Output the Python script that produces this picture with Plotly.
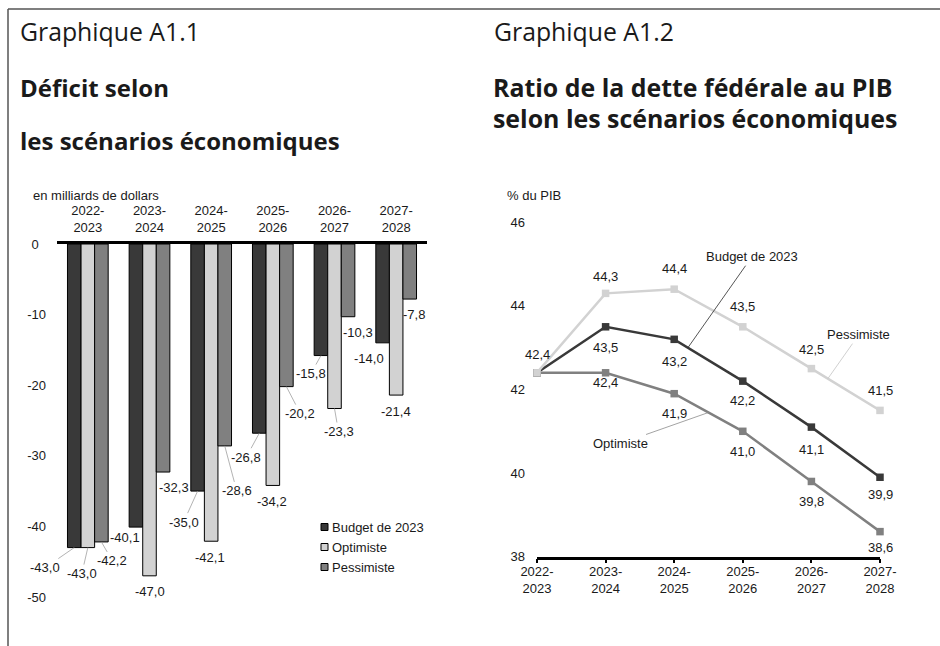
import numpy as np
import plotly.graph_objects as go

# ---------------------------------------------------------------- data
periods = ["2022-2023", "2023-2024", "2024-2025", "2025-2026", "2026-2027", "2027-2028"]

# Déficit (milliards de dollars)
deficit_budget = [-43.0, -40.1, -35.0, -26.8, -15.8, -14.0]
deficit_optimiste = [-43.0, -47.0, -42.1, -34.2, -23.3, -21.4]
deficit_pessimiste = [-42.2, -32.3, -28.6, -20.2, -10.3, -7.8]
deficit_ticks = [0, -10, -20, -30, -40, -50]

# Ratio de la dette fédérale au PIB (%)
debt_budget = [42.4, 43.5, 43.2, 42.2, 41.1, 39.9]
debt_optimiste = [42.4, 42.4, 41.9, 41.0, 39.8, 38.6]
debt_pessimiste = [42.4, 44.3, 44.4, 43.5, 42.5, 41.5]
debt_ticks = [38, 40, 42, 44, 46]

series_names = ["Budget de 2023", "Optimiste", "Pessimiste"]

# ---------------------------------------------------------------- style
W, H = 940, 646
DARK, LIGHT, MID = "#393939", "#d2d2d2", "#808080"
TXT = "#1a1a1a"
CHART_FONT = "Liberation Sans"
TITLE_FONT = "Open Sans"
FS = 13


def px(x):
    return x / W


def py(y):
    return 1 - y / H


def fmt(v):
    return f"{v:.1f}".replace(".", ",")


tick_text = [p.replace("-", "-<br>") for p in periods]
# the lone zero is padded so that it sits centred under the other labels
deficit_tick_text = [str(t) if t else "0\u00a0\u00a0" for t in deficit_ticks]

# plot areas (pixels)
L_X0, L_X1, L_Y0, L_Y1 = 57, 427, 244, 597      # deficit bars
R_X0, R_X1, R_Y0, R_Y1 = 537, 880, 222.3, 556.7  # debt ratio lines
BARGAP = 0.34
cat_w = (L_X1 - L_X0) / len(periods)
bar_w = cat_w * (1 - BARGAP) / 3
bar_shift = [-bar_w, 0.0, bar_w]

fig = go.Figure()

# ---------------------------------------------------------------- bars
deficit_series = [deficit_budget, deficit_optimiste, deficit_pessimiste]
bar_colors = [DARK, LIGHT, MID]
for name, vals, col in zip(series_names, deficit_series, bar_colors):
    fig.add_trace(go.Bar(
        x=periods, y=vals, name=name, showlegend=False,
        marker=dict(color=col, line=dict(color="#000000", width=1)),
        xaxis="x", yaxis="y", hoverinfo="skip",
    ))

# ---------------------------------------------------------------- lines
idx = list(range(len(periods)))
debt_series = {"Budget de 2023": debt_budget, "Optimiste": debt_optimiste,
               "Pessimiste": debt_pessimiste}
line_colors = {"Budget de 2023": DARK, "Optimiste": MID, "Pessimiste": LIGHT}
for name in ["Budget de 2023", "Optimiste", "Pessimiste"]:
    col = line_colors[name]
    fig.add_trace(go.Scatter(
        x=idx, y=debt_series[name], mode="lines+markers", name=name,
        showlegend=False, cliponaxis=False,
        line=dict(color=col, width=2.5),
        marker=dict(symbol="square", size=7.5, color=col),
        xaxis="x2", yaxis="y2", hoverinfo="skip",
    ))

annotations = []

# value labels on the bars: (dx, dy) offset from the bar end, leader line flag
bar_label_pos = [
    [(-29, 20, True), (-11, 10, False), (-14, 31, True), (-13, 24, True), (-10, 18, True), (-14, 16, False)],
    [(-6, 26, True), (0, 16, False), (-1, 16, False), (-1, 16, False), (4, 23, True), (0, 16, False)],
    [(11, 19, True), (11, 15, False), (12, 45, True), (14, 27, True), (10, 16, False), (4, 15, False)],
]
for s, vals in enumerate(deficit_series):
    for i, v in enumerate(vals):
        dx, dy, leader = bar_label_pos[s][i]
        common = dict(x=periods[i], y=v, xref="x", yref="y", text=fmt(v),
                      font=dict(family=CHART_FONT, size=FS, color=TXT))
        if leader:
            annotations.append(dict(**common, xshift=bar_shift[s], showarrow=True,
                                    arrowhead=0, arrowwidth=0.8, arrowcolor="#a0a0a0",
                                    ax=dx, ay=dy, standoff=0))
        else:
            annotations.append(dict(**common, showarrow=False,
                                    xshift=bar_shift[s] + dx, yshift=-dy))

# value labels on the lines: vertical offset from each point
line_label_dy = {
    "Pessimiste": [-18, -17, -21, -20, -19, -20],
    "Budget de 2023": [None, 21, 22, 19, 22, 17],
    "Optimiste": [None, 10, 20, 20, 20, 16],
}
for name, dys in line_label_dy.items():
    for i, dy in enumerate(dys):
        if dy is None:
            continue
        v = debt_series[name][i]
        annotations.append(dict(x=i, y=v, xref="x2", yref="y2", text=fmt(v),
                                showarrow=False, yshift=-dy,
                                font=dict(family=CHART_FONT, size=FS, color=TXT)))

# series names with leader lines pointing on each curve
name_labels = [
    ("Budget de 2023", 2.2, 64, -91, "#2a2a2a"),
    ("Pessimiste", 4.24, 31, -44, "#c4c4c4"),
    ("Optimiste", 2.5, -88, 31, "#8c8c8c"),
]
for name, t, ax, ay, lc in name_labels:
    annotations.append(dict(
        x=t, y=float(np.interp(t, idx, debt_series[name])), xref="x2", yref="y2",
        text=name, showarrow=True, arrowhead=0, arrowwidth=0.8, arrowcolor=lc,
        ax=ax, ay=ay, standoff=0,
        font=dict(family=CHART_FONT, size=FS, color=TXT)))

# legend of the bar chart
LEG_X, LEG_Y, LEG_STEP, SW = 321, 527, 20, 7
shapes = []
for k, (name, col) in enumerate(zip(series_names, bar_colors)):
    yc = LEG_Y + k * LEG_STEP
    shapes.append(dict(type="rect", xref="paper", yref="paper",
                       x0=px(LEG_X), x1=px(LEG_X + SW),
                       y0=py(yc + SW / 2), y1=py(yc - SW / 2),
                       fillcolor=col, line=dict(color="#000000", width=1)))
    annotations.append(dict(x=px(LEG_X + SW + 2), y=py(yc), xref="paper", yref="paper",
                            xanchor="left", yanchor="middle", showarrow=False, text=name,
                            font=dict(family=CHART_FONT, size=FS, color=TXT)))

# unit captions
annotations.append(dict(x=px(31), y=py(196), xref="paper", yref="paper", xanchor="left",
                        yanchor="middle", showarrow=False, text="en milliards de dollars",
                        font=dict(family=CHART_FONT, size=FS, color=TXT)))
annotations.append(dict(x=px(505), y=py(196), xref="paper", yref="paper", xanchor="left",
                        yanchor="middle", showarrow=False, text="% du PIB",
                        font=dict(family=CHART_FONT, size=FS, color=TXT)))

# headings
headings = [
    ("Graphique A1.1", 18, 31, False, 24.8),
    ("Déficit selon", 18, 87, True, 24),
    ("les scénarios économiques", 18, 140, True, 24),
    ("Graphique A1.2", 492, 31, False, 24.8),
    ("Ratio de la dette fédérale au PIB", 491, 87, True, 24.9),
    ("selon les scénarios économiques", 491, 118, True, 24.9),
]
for text, x, y, bold, size in headings:
    annotations.append(dict(x=px(x), y=py(y), xref="paper", yref="paper", xanchor="left",
                            yanchor="middle", showarrow=False,
                            text=f"<b>{text}</b>" if bold else text,
                            font=dict(family=TITLE_FONT, size=size, color=TXT)))

# frame lines
shapes.append(dict(type="line", xref="paper", yref="paper", x0=px(8), x1=1,
                   y0=py(9), y1=py(9), line=dict(color="#555555", width=1.5)))
shapes.append(dict(type="line", xref="paper", yref="paper", x0=px(8), x1=px(8),
                   y0=py(9), y1=0, line=dict(color="#555555", width=1.5)))

axis_font = dict(family=CHART_FONT, size=FS, color=TXT)
fig.update_layout(
    width=W, height=H, margin=dict(l=0, r=0, t=0, b=0, pad=0, autoexpand=False),
    paper_bgcolor="white", plot_bgcolor="rgba(0,0,0,0)",
    barmode="group", bargap=BARGAP, bargroupgap=0,
    showlegend=False,
    xaxis=dict(domain=[px(L_X0), px(L_X1)], anchor="y", side="top", type="category",
               range=[-0.5, len(periods) - 0.5], automargin=False,
               showline=True, linecolor="#000000", linewidth=2.5, ticks="",
               tickvals=periods, ticktext=tick_text, tickfont=axis_font,
               showgrid=False, zeroline=False, ticklabelstandoff=4),
    yaxis=dict(domain=[py(L_Y1), py(L_Y0)], anchor="x", range=[-50, 0], automargin=False,
               tickvals=deficit_ticks, ticktext=deficit_tick_text,
               tickfont=axis_font, showline=False, showgrid=False, zeroline=False,
               ticks="", ticklabelstandoff=10),
    xaxis2=dict(domain=[px(R_X0), px(R_X1)], anchor="y2", range=[0, len(periods) - 1],
                automargin=False, tickvals=idx, ticktext=tick_text, tickfont=axis_font,
                showline=True, linecolor="#000000", linewidth=2.5,
                ticks="outside", ticklen=4, tickwidth=2, tickcolor="#000000",
                showgrid=False, zeroline=False, ticklabelstandoff=-3),
    yaxis2=dict(domain=[py(R_Y1), py(R_Y0)], anchor="x2", range=[38, 46], automargin=False,
                tickvals=debt_ticks, ticktext=[str(t) for t in debt_ticks],
                tickfont=axis_font, showline=False, showgrid=False, zeroline=False,
                ticks="", ticklabelstandoff=11),
    annotations=annotations,
    shapes=shapes,
)

fig.write_html("out.html")
